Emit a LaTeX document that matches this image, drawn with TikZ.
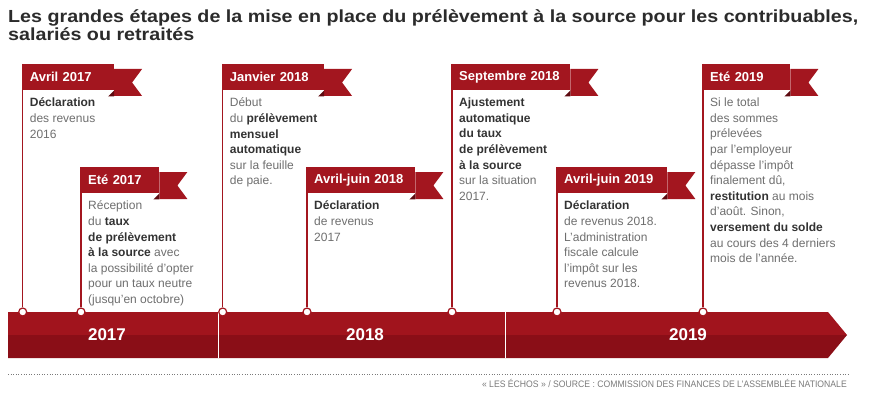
\documentclass[tikz,border=0pt]{standalone}
\usepackage{fontspec}
\setmainfont{Liberation Sans}
\newfontfamily\titlefont[FakeStretch=1.125]{Liberation Sans}
\newfontfamily\sourcefont[FakeStretch=0.92]{Liberation Sans}
\usetikzlibrary{calc}
\usetikzlibrary{positioning}
\definecolor{flagRed}{HTML}{A3161F}
\definecolor{barRed}{HTML}{A1141D}
\definecolor{barDark}{HTML}{8A0E17}
\definecolor{foldRed}{HTML}{5E0A10}
\definecolor{textGrey}{HTML}{6E6E6E}
\definecolor{textDark}{HTML}{333333}
\definecolor{titleGrey}{HTML}{2B2B2B}
\definecolor{footGrey}{HTML}{7A7A7A}
\pgfdeclarelayer{stem_bg}
\pgfsetlayers{stem_bg,main}
\newcommand{\gras}[1]{{\bfseries\color{textDark}#1}}
\tikzset{
    flag/.style={fill=flagRed, text=white, anchor=north west, inner xsep=7pt, inner ysep=0pt, minimum height=26pt, align=left, font=\fontsize{13}{13}\selectfont\bfseries},
    body/.style={inner sep=0pt, align=left, text=textGrey, font=\fontsize{12}{15.6}\selectfont},
    pin/.style={circle, draw=flagRed, line width=1.2pt, fill=white, inner sep=0pt, minimum size=8pt},
    stem/.style={draw=flagRed, line width=1.3pt},
    year/.style={text=white, font=\fontsize{17}{17}\selectfont\bfseries}
}
\newcommand{\etape}[6]{
    \pgfmathsetmacro{\flagW}{#4-14}
    \node (#1) [flag, text width=\flagW pt] at (#2,#3) {#5};
    \fill [flagRed] ($(#1.north east)+(0,5)$) -- ++(28,0) -- ++(-10,13.5) -- ++(10,13.5) -- ++(-28,0) -- cycle;
    \fill [foldRed] (#1.south east) -- ++(0,6) -- ++(-6,0) -- cycle;
    \node (#1_txt) [body, below right=7.5pt and 7pt of #1.south west] {#6};
    \node (#1_pin) [pin] at (#2,\barTop) {};
    \begin{pgfonlayer}{stem_bg}
        \draw [stem] (#1.north west) -- (#1_pin);
    \end{pgfonlayer}
}

\begin{document}
\begin{tikzpicture}[x=1pt, y=-1pt]
    \pgfmathsetmacro{\barTop}{312}
    \pgfmathsetmacro{\barMid}{335}
    \pgfmathsetmacro{\barBot}{358}
    \useasboundingbox (0,0) rectangle (874,398);

    \node (title) [anchor=north west, inner sep=0pt, align=left, text=titleGrey, font=\titlefont\fontsize{17.5}{17.5}\selectfont\bfseries] at (8,9.5) {Les grandes étapes de la mise en place du prélèvement à la source pour les contribuables,\\salariés ou retraités};

    % timeline bar
    \fill [barRed] (8,\barTop) -- (828,\barTop) -- (847,\barMid) -- (8,\barMid) -- cycle;
    \fill [barDark] (8,\barMid) -- (847,\barMid) -- (828,\barBot) -- (8,\barBot) -- cycle;
    \draw [white, line width=1pt] (218,\barTop) -- (218,\barBot);
    \draw [white, line width=1pt] (505,\barTop) -- (505,\barBot);
    \node (y2017) [year] at (107,\barMid) {2017};
    \node (y2018) [year] at (365,\barMid) {2018};
    \node (y2019) [year] at (688,\barMid) {2019};

    \etape{avril17}{22.7}{64}{91}{Avril 2017}{\gras{Déclaration}\\des revenus\\2016}
    \etape{ete17}{81}{167}{78}{Eté 2017}{Réception\\du \gras{taux}\\\gras{de prélèvement}\\\gras{à la source} avec\\la possibilité d'opter\\pour un taux neutre\\(jusqu'en octobre)}
    \etape{janv18}{222.7}{64}{101}{Janvier 2018}{Début\\du \gras{prélèvement}\\\gras{mensuel}\\\gras{automatique}\\sur la feuille\\de paie.}
    \etape{avjuin18}{307}{167}{108}{Avril-juin 2018}{\gras{Déclaration}\\de revenus\\2017}
    \etape{sept18}{452}{64}{118}{Septembre 2018}{\gras{Ajustement}\\\gras{automatique}\\\gras{du taux}\\\gras{de prélèvement}\\\gras{à la source}\\sur la situation\\2017.}
    \etape{avjuin19}{557}{167}{110}{Avril-juin 2019}{\gras{Déclaration}\\de revenus 2018.\\L'administration\\fiscale calcule\\l'impôt sur les\\revenus 2018.}
    \etape{ete19}{703}{64}{87}{Eté 2019}{Si le total\\des sommes\\prélevées\\par l'employeur\\dépasse l'impôt\\finalement dû,\\\gras{restitution} au mois\\d'août. Sinon,\\\gras{versement du solde}\\au cours des 4 derniers\\mois de l'année.}

    % source
    \draw [footGrey, dotted, line width=0.6pt] (8,374) -- (850,374);
    \node (source) [anchor=base east, inner sep=0pt, text=footGrey, font=\sourcefont\fontsize{9.4}{9.4}\selectfont] at (847,387) {« LES ÉCHOS » / SOURCE : COMMISSION DES FINANCES DE L'ASSEMBLÉE NATIONALE};
\end{tikzpicture}
\end{document}
